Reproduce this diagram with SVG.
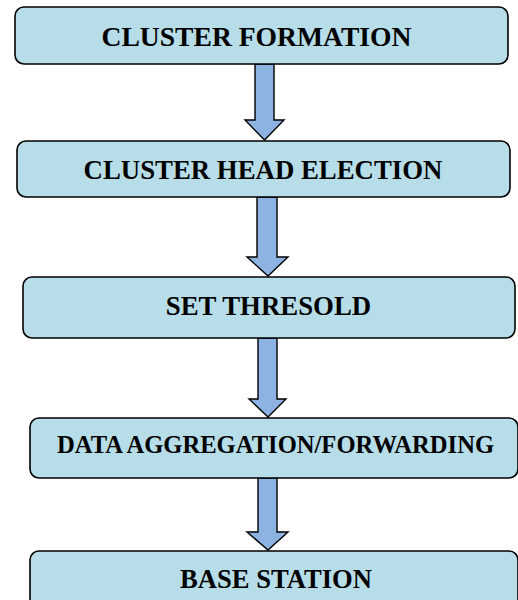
<svg xmlns="http://www.w3.org/2000/svg" width="518" height="600" viewBox="0 0 518 600">
  <style>
    .box { fill: #b7dde8; stroke: #000; stroke-width: 1.6; }
    .lbl { font-family: "Liberation Serif", "Times New Roman", serif; font-weight: bold; fill: #000; text-anchor: middle; }
    .arrow { fill: #8db3e2; stroke: #000; stroke-width: 1.4; stroke-linejoin: miter; }
  </style>
  <rect width="518" height="600" fill="#fff"/>

  <g id="connectors">
    <path class="arrow" d="M255,64 H274 V120 H284 L264.5,140 L245,120 H255 Z"/>
    <path class="arrow" d="M257,197 H277 V257 H288 L268,276 L247,257 H257 Z"/>
    <path class="arrow" d="M258,338 H277 V399 H286 L268,417 L249,399 H258 Z"/>
    <path class="arrow" d="M258,478 H277 V532 H288 L268,550 L247,532 H258 Z"/>
  </g>

  <g id="cluster-formation">
    <rect class="box" x="15" y="7" width="493" height="57" rx="9"/>
    <text class="lbl" x="256.5" y="46" font-size="27.6">CLUSTER FORMATION</text>
  </g>

  <g id="cluster-head-election">
    <rect class="box" x="17" y="141" width="493" height="56" rx="9"/>
    <text class="lbl" x="263" y="179" font-size="26.8">CLUSTER HEAD ELECTION</text>
  </g>

  <g id="set-thresold">
    <rect class="box" x="23" y="277" width="492" height="61" rx="9"/>
    <text class="lbl" x="268.5" y="315" font-size="26.8">SET THRESOLD</text>
  </g>

  <g id="data-aggregation">
    <rect class="box" x="30" y="418" width="488" height="60" rx="9"/>
    <text class="lbl" x="275.5" y="453" font-size="24.6">DATA AGGREGATION/FORWARDING</text>
  </g>

  <g id="base-station">
    <rect class="box" x="30" y="551" width="488" height="60" rx="9"/>
    <text class="lbl" x="276" y="588" font-size="26.6">BASE STATION</text>
  </g>
</svg>
